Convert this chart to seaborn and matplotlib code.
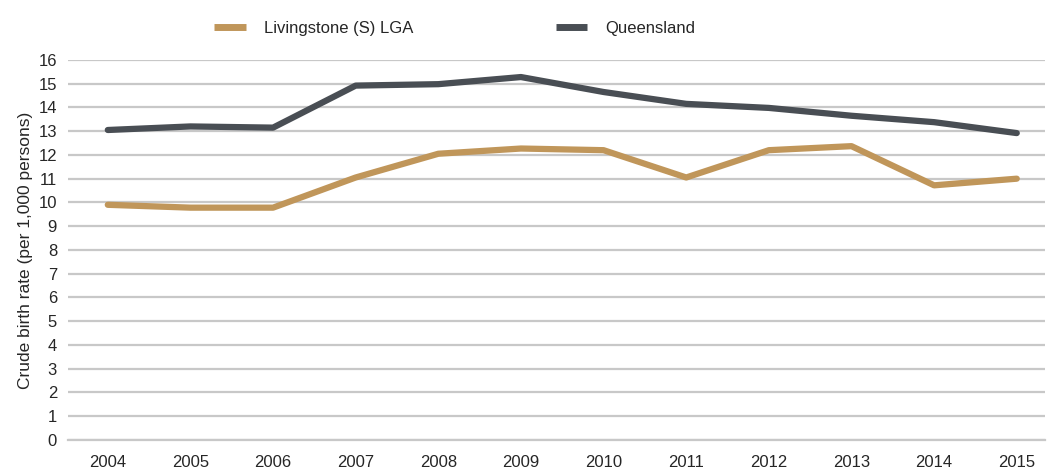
import matplotlib
matplotlib.use("Agg")
import matplotlib.pyplot as plt
import seaborn as sns
import pandas as pd

# Crude birth rate data
years = [2004, 2005, 2006, 2007, 2008, 2009, 2010, 2011, 2012, 2013, 2014, 2015]
livingstone = [9.9, 9.78, 9.78, 11.05, 12.05, 12.27, 12.2, 11.05, 12.2, 12.37, 10.72, 11.0]
queensland = [13.05, 13.2, 13.15, 14.92, 14.98, 15.28, 14.65, 14.15, 13.98, 13.65, 13.38, 12.92]
series_names = ["Livingstone (S) LGA", "Queensland"]
y_ticks = list(range(0, 17))

df = pd.DataFrame({"year": years * 2,
                   "rate": livingstone + queensland,
                   "area": [series_names[0]] * len(years) + [series_names[1]] * len(years)})
df["pos"] = df["year"] - years[0]

sns.set_style("white")
plt.rcParams['font.family'] = ['Liberation Sans', 'DejaVu Sans']

fig, ax = plt.subplots(figsize=(10.48, 4.72), dpi=100)
fig.subplots_adjust(left=0.065, right=0.997, top=0.873, bottom=0.068)

sns.lineplot(data=df, x="pos", y="rate", hue="area",
             palette={series_names[0]: "#C0965A", series_names[1]: "#494E54"},
             linewidth=4.5, ax=ax, legend=True)

ax.set_xlim(-0.48, len(years) - 1 + 0.34)
ax.set_ylim(0, 16)
ax.set_yticks(y_ticks)
ax.set_xticks(range(len(years)))
ax.set_xticklabels([str(y) for y in years])
ax.yaxis.grid(True, color="#C8C8C8", linewidth=1.6)
ax.set_axisbelow(True)
for s in ["top", "right", "left"]:
    ax.spines[s].set_visible(False)
ax.spines["bottom"].set_color("#C8C8C8")
ax.spines["bottom"].set_linewidth(1.6)
ax.tick_params(axis="x", length=8, width=1.2, color="#C8C8C8", direction="out", pad=3, labelsize=12)
ax.tick_params(axis="y", length=0, pad=8, labelsize=12)
ax.set_xlabel("")
ax.set_ylabel("Crude birth rate (per 1,000 persons)", fontsize=12.5, labelpad=4)

leg = ax.legend(loc="lower left", bbox_to_anchor=(0.143, 1.045), ncol=2, frameon=False,
                fontsize=12, handlelength=1.9, handletextpad=1.1, columnspacing=8.5,
                borderaxespad=0)
for h in leg.get_lines():
    h.set_linewidth(5)
    h.set_solid_capstyle("butt")

fig.savefig("out.png", dpi=100)
